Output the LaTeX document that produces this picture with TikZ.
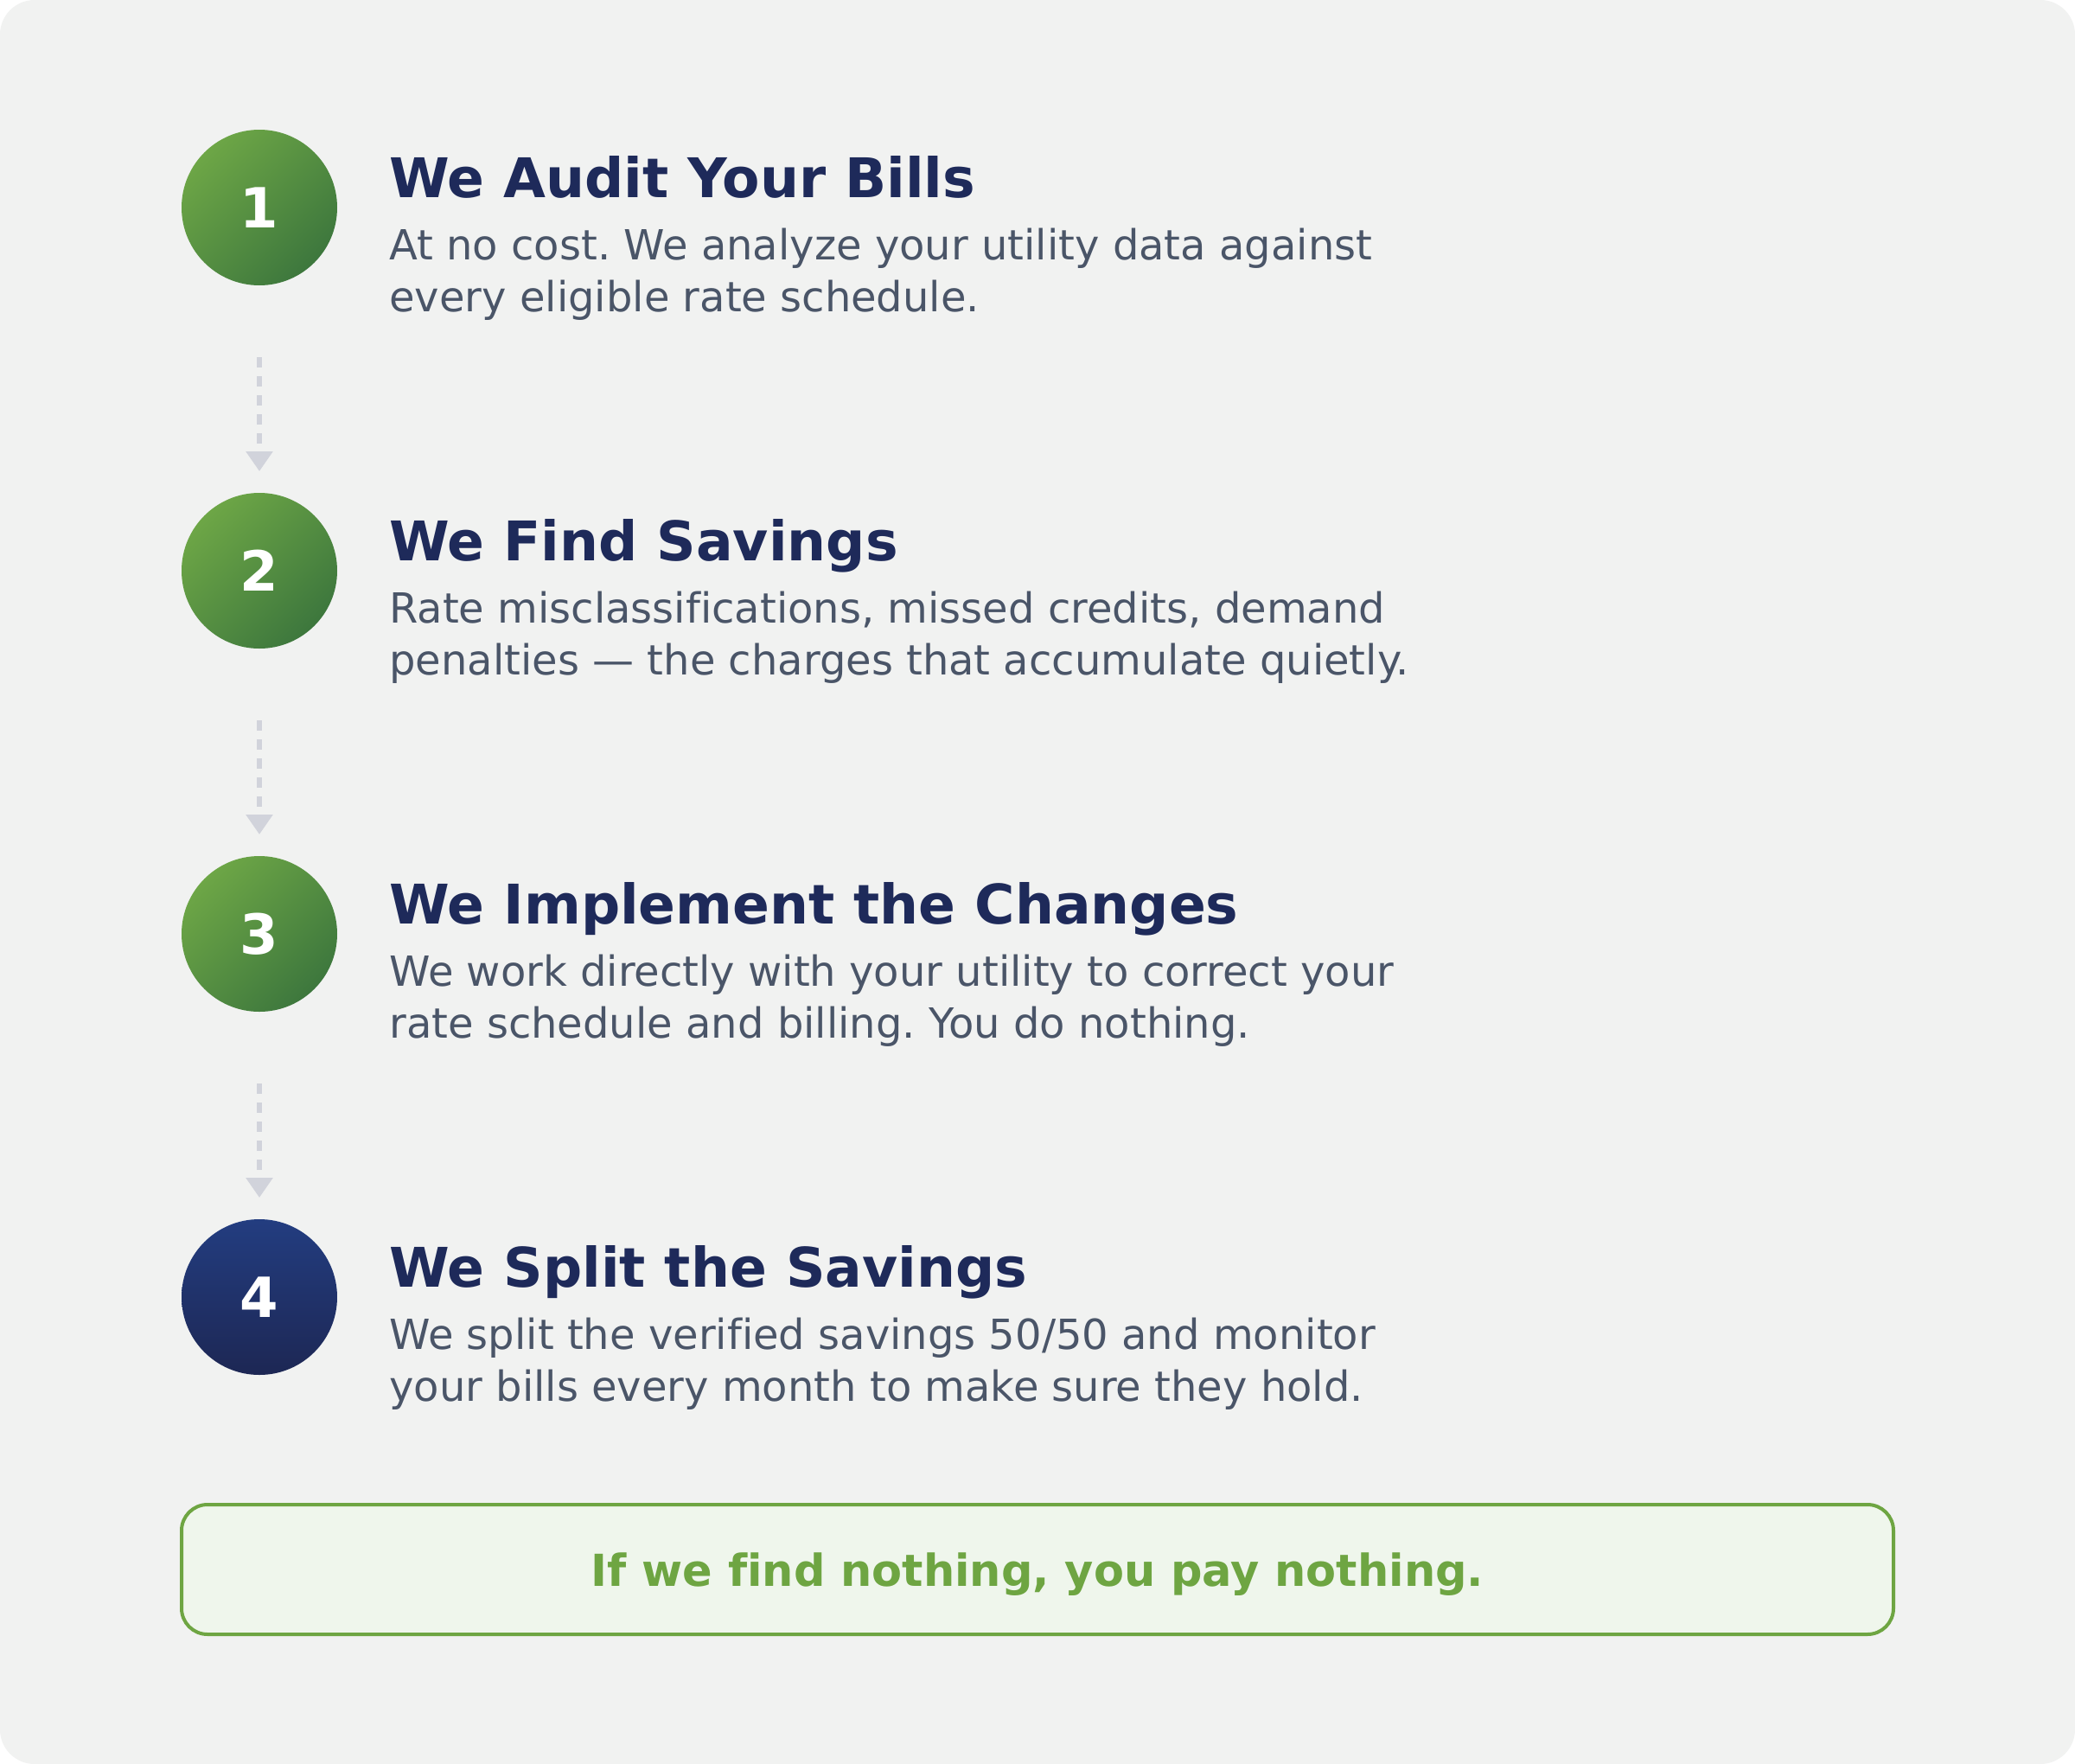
\documentclass[tikz,border=0pt]{standalone}
\usepackage{fontspec}
\setmainfont{DejaVu Sans}[Ligatures=NoCommon]
\frenchspacing
\usetikzlibrary{arrows.meta}
\definecolor{pagebg}{HTML}{F1F2F1}
\definecolor{navytext}{HTML}{1E2A5A}
\definecolor{slatetext}{HTML}{4A5568}
\definecolor{greentop}{HTML}{6DA646}
\definecolor{greenbot}{HTML}{3D773D}
\definecolor{navytop}{HTML}{233D80}
\definecolor{navybot}{HTML}{1D2754}
\definecolor{arrowgrey}{HTML}{D1D3DB}
\definecolor{notegreen}{HTML}{6EA542}
\definecolor{notefill}{HTML}{EFF6EC}
\begin{document}
\begin{tikzpicture}[x=1pt,y=-1pt,
		stepnum/.style={circle,minimum size=90pt,inner sep=0pt,outer sep=0pt,text=white,font=\fontsize{32}{32}\selectfont\bfseries},
		greennum/.style={stepnum,top color=greentop,bottom color=greenbot,shading angle=45},
		navynum/.style={stepnum,top color=navytop,bottom color=navybot},
		steptitle/.style={anchor=base west,inner sep=0pt,text=navytext,font=\fontsize{31.6}{32}\selectfont\bfseries},
		stepdesc/.style={anchor=base west,inner sep=0pt,align=left,text=slatetext,font=\fontsize{24}{30}\selectfont},
		flow/.style={draw=arrowgrey,line width=3pt,dash pattern=on 6pt off 5pt,shorten <=41.5pt,shorten >=12.5pt,-{Triangle[length=11.5pt,width=15pt]}},
		note/.style={draw=notegreen,fill=notefill,line width=2pt,rounded corners=15pt,minimum width=990pt,minimum height=75pt,inner sep=0pt,text depth=0pt,text=notegreen,font=\fontsize{25.5}{26}\selectfont\bfseries}]
		\def\tx{225}
		\useasboundingbox (0,0) rectangle (1200,1020);
		\fill[white] (0,0) rectangle (1200,1020);
		\fill[pagebg,rounded corners=20pt] (0,0) rectangle (1200,1020);
		% steps (description nodes sit on the baseline of their last line)
		\node[greennum] (c1) at (150,120) {1};
		\node[steptitle] (t1) at (\tx,114) {We Audit Your Bills};
		\node[stepdesc] (d1) at (\tx,180) {At no cost. We analyze your utility data against\\every eligible rate schedule.};
		\node[greennum] (c2) at (150,330) {2};
		\node[steptitle] (t2) at (\tx,324) {We Find Savings};
		\node[stepdesc] (d2) at (\tx,390) {Rate misclassifications, missed credits, demand\\penalties — the charges that accumulate quietly.};
		\node[greennum] (c3) at (150,540) {3};
		\node[steptitle] (t3) at (\tx,534) {We Implement the Changes};
		\node[stepdesc] (d3) at (\tx,600) {We work directly with your utility to correct your\\rate schedule and billing. You do nothing.};
		\node[navynum] (c4) at (150,750) {4};
		\node[steptitle] (t4) at (\tx,744) {We Split the Savings};
		\node[stepdesc] (d4) at (\tx,810) {We split the verified savings 50/50 and monitor\\your bills every month to make sure they hold.};
		% arrows
		\draw[flow] (c1) -- (c2);
		\draw[flow] (c2) -- (c3);
		\draw[flow] (c3) -- (c4);
		% guarantee
		\node[note] (note) at (600,907.5) {If we find nothing, you pay nothing.};
\end{tikzpicture}
\end{document}
